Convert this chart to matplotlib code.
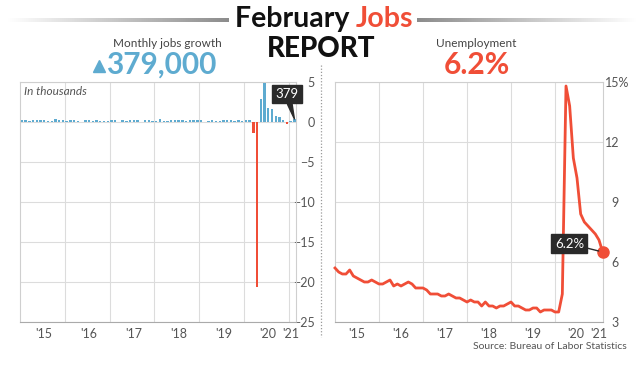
import numpy as np
import matplotlib.pyplot as plt
from matplotlib.colors import LinearSegmentedColormap

plt.rcParams['font.family'] = ['Lato', 'DejaVu Sans']

# monthly payroll change, thousands, Jan 2015 - Feb 2021
jobs_growth = [
    201, 266, 119, 251, 273, 193, 293, 151, 143, 317, 233, 273,
    143, 242, 208, 161, 24, 271, 293, 177, 249, 124, 164, 155,
    216, 232, 50, 207, 145, 239, 190, 221, 18, 271, 216, 175,
    176, 324, 155, 175, 270, 235, 209, 282, 108, 277, 196, 227,
    269, 1, 147, 210, 85, 182, 194, 207, 208, 185, 261, 184,
    214, 251, -1373, -20679, 2833, 4846, 1726, 1583, 716, 680, 264, -306,
    166, 379,
]
# unemployment rate, %, Jan 2015 - Feb 2021
unemployment = [
    5.7, 5.5, 5.4, 5.4, 5.6, 5.3, 5.2, 5.1, 5.0, 5.0, 5.1, 5.0,
    4.9, 4.9, 5.0, 5.1, 4.8, 4.9, 4.8, 4.9, 5.0, 4.9, 4.7, 4.7,
    4.7, 4.6, 4.4, 4.4, 4.4, 4.3, 4.3, 4.4, 4.3, 4.2, 4.2, 4.1,
    4.0, 4.1, 4.0, 4.0, 3.8, 4.0, 3.8, 3.8, 3.7, 3.8, 3.8, 3.9,
    4.0, 3.8, 3.8, 3.7, 3.6, 3.6, 3.7, 3.7, 3.5, 3.6, 3.6, 3.6,
    3.5, 3.5, 4.4, 14.8, 13.8, 11.2, 10.2, 8.4, 8.0, 7.8, 7.6, 7.4,
    7.1, 6.5,
]
first_year = 2015
year_labels = ["'15", "'16", "'17", "'18", "'19", "'20", "'21"]
jobs_yticks = [5, 0, -5, -10, -15, -20, -25]
rate_yticks = [3, 6, 9, 12, 15]

BLUE = '#5eabd0'
RED = '#f04e37'
GRID = '#dcdcdc'
TICK = '#555555'
DARK = '#2a2a2a'

W, H = 644, 369


def fx(px):
    return px / W


def fy(py):
    return 1 - py / H


def style_axis(ax, pad_px):
    for s in ax.spines.values():
        s.set_color('#cfcfcf')
        s.set_linewidth(0.8)
    ax.spines['bottom'].set_color('#aaaaaa')
    ax.yaxis.tick_right()
    ax.tick_params(length=0, labelsize=9, colors=TICK)
    ax.tick_params(axis='y', pad=pad_px * 0.72)
    for lab in ax.get_yticklabels():
        lab.set_horizontalalignment('right')
    ax.tick_params(axis='x', pad=4)
    ax.set_xticks(range(first_year + 1, first_year + 7), minor=True)
    ax.tick_params(which='minor', length=0)
    ax.grid(which='minor', axis='x', color=GRID, lw=0.8)
    ax.grid(which='major', axis='y', color=GRID, lw=0.8)
    ax.grid(which='major', axis='x', visible=False)
    ax.set_axisbelow(True)


fig = plt.figure(figsize=(6.44, 3.69), dpi=100)

# header overlay
ax0 = fig.add_axes([0, 0, 1, 1])
ax0.axis('off')
cmap_l = LinearSegmentedColormap.from_list('l', ['#ffffff', '#8c8c8c'])
cmap_r = LinearSegmentedColormap.from_list('r', ['#8c8c8c', '#ffffff'])
grad = np.linspace(0, 1, 256).reshape(1, -1)
ax0.imshow(grad, cmap=cmap_l, extent=[fx(8), fx(229), fy(22), fy(18)], aspect='auto')
ax0.imshow(grad, cmap=cmap_r, extent=[fx(417), fx(636), fy(22), fy(18)], aspect='auto')
ax0.set_xlim(0, 1)
ax0.set_ylim(0, 1)

renderer = fig.canvas.get_renderer()
t1 = ax0.text(fx(235), fy(27), 'February ', fontsize=20.5, fontweight='bold',
              color='#111111', ha='left', va='baseline')
bb = t1.get_window_extent(renderer=renderer)
ax0.text(bb.x1 / fig.bbox.width, fy(27), 'Jobs', fontsize=20.5, fontweight='bold',
         color=RED, ha='left', va='baseline')
ax0.text(fx(321), fy(57), 'REPORT', fontsize=20, fontweight='black',
         color='#111111', ha='center', va='baseline')

ax0.text(fx(167), fy(47), 'Monthly jobs growth', fontsize=8.5, color='#444444',
         ha='center', va='baseline')
ax0.plot([fx(99)], [fy(66)], marker='^', markersize=9, color=BLUE)
ax0.text(fx(106), fy(74), '379,000', fontsize=21.5, fontweight='bold',
         color=BLUE, ha='left', va='baseline')
ax0.text(fx(476), fy(47), 'Unemployment', fontsize=8.5, color='#444444',
         ha='center', va='baseline')
ax0.text(fx(477), fy(74), '6.2%', fontsize=21.5, fontweight='bold',
         color=RED, ha='center', va='baseline')
ax0.plot([fx(321), fx(321)], [fy(65), fy(337)], color='#9a9a9a', lw=0.9,
         linestyle=(0, (1, 1.5)))
ax0.text(fx(627), fy(349), 'Source: Bureau of Labor Statistics', fontsize=7.5,
         color='#555555', ha='right', va='baseline')

# left: monthly jobs growth (millions on axis)
ax1 = fig.add_axes([fx(20), fy(322), fx(296) - fx(20), fy(82) - fy(322)])
months = np.arange(len(jobs_growth))
x_jobs = first_year + (months + 0.5) / 12
vals = np.array(jobs_growth) / 1000
colors = [BLUE if v >= 0 else RED for v in vals]
ax1.bar(x_jobs, vals, width=0.055, color=colors, zorder=3)
ax1.set_xlim(first_year, first_year + 276 / 44.8)
ax1.set_ylim(-25, 5)
ax1.set_yticks(jobs_yticks)
ax1.set_xticks([2015.54, 2016.54, 2017.54, 2018.54, 2019.54, 2020.54, 2021.05])
ax1.set_xticklabels(year_labels)
style_axis(ax1, 19)
ax1.text(0.015, 0.946, 'In thousands', transform=ax1.transAxes, fontsize=8.5,
         style='italic', color='#555555', va='baseline')
ax1.annotate(str(jobs_growth[-1]), xy=(x_jobs[-1], vals[-1]), xytext=(-5.5, 18),
             textcoords='offset points', ha='center', va='center', fontsize=9.5,
             color='white',
             bbox=dict(boxstyle='square,pad=0.25', fc=DARK, ec=DARK),
             arrowprops=dict(arrowstyle='wedge,tail_width=0.35', fc=DARK, ec=DARK,
                             shrinkA=0, shrinkB=0), zorder=5)

# right: unemployment rate
ax2 = fig.add_axes([fx(335), fy(322), fx(603) - fx(335), fy(82) - fy(322)])
x_rate = first_year + months / 12
ax2.plot(x_rate, unemployment, color=RED, lw=2, solid_joinstyle='round', zorder=3,
         clip_on=False)
ax2.plot(x_rate[-1], unemployment[-1], 'o', color=RED, markersize=8, zorder=4,
         clip_on=False)
ax2.set_xlim(first_year, first_year + 268 / 44)
ax2.set_ylim(3, 15)
ax2.set_yticks(rate_yticks)
ax2.set_xticks([2015.5, 2016.5, 2017.5, 2018.5, 2019.5, 2020.48, 2021.0])
ax2.set_xticklabels(year_labels)
style_axis(ax2, 16)
ax2.annotate('6.2%', xy=(x_rate[-1], unemployment[-1]), xytext=(-24, 6),
             textcoords='offset points', ha='center', va='center', fontsize=9.5,
             color='white',
             bbox=dict(boxstyle='square,pad=0.25', fc=DARK, ec=DARK),
             arrowprops=dict(arrowstyle='-', color=DARK, lw=1, shrinkA=0, shrinkB=3),
             zorder=5)

# top label reads "15%", with the digits aligned like the other labels
fig.canvas.draw()
top_lab = [lab for lab in ax2.get_yticklabels() if lab.get_text() == '15'][0]
lb = top_lab.get_window_extent(renderer=fig.canvas.get_renderer())
ax2.set_yticks(rate_yticks, [str(v) if v != 15 else '' for v in rate_yticks])
for lab in ax2.get_yticklabels():
    lab.set_horizontalalignment('right')
ax0.text(lb.x0 / fig.bbox.width, (lb.y0 + lb.y1) / 2 / fig.bbox.height, '15%',
         fontsize=9, color=TICK, ha='left', va='center')

fig.savefig('out.png', dpi=100)
